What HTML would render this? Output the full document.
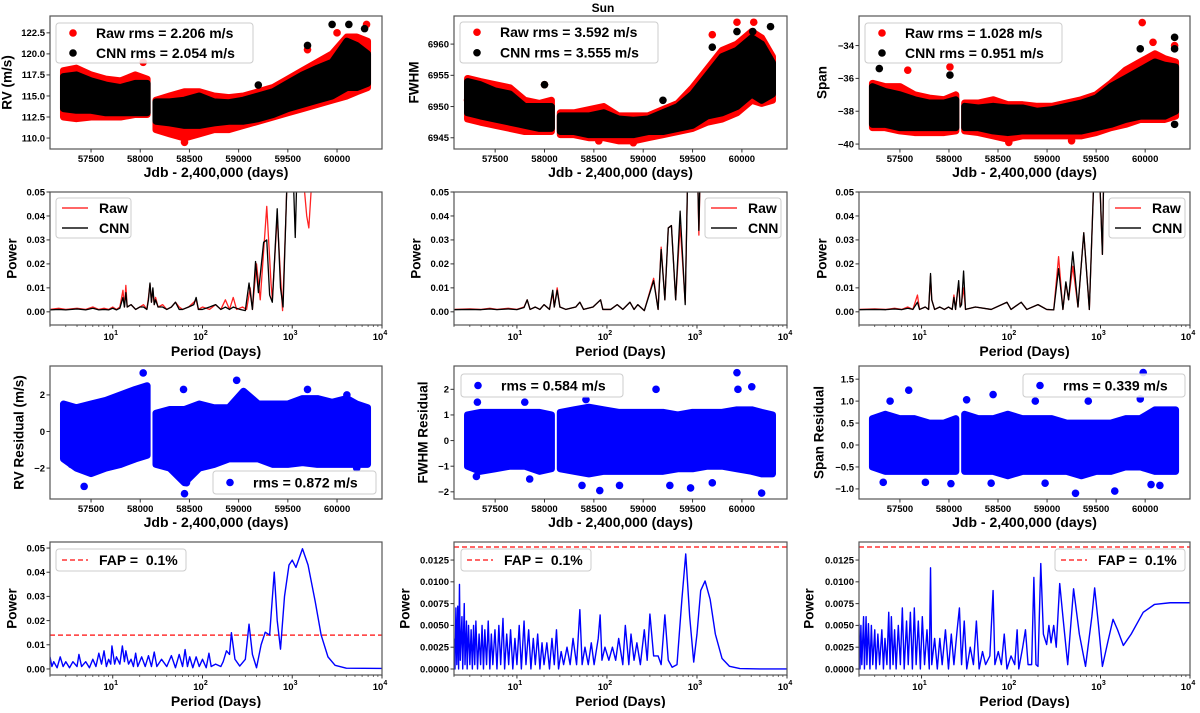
<!DOCTYPE html>
<html><head><meta charset="utf-8"><style>
body{margin:0;background:#fff}
svg text{font-family:"Liberation Sans",sans-serif;font-weight:bold}
</style></head><body>
<svg id="fig" width="1200" height="708" viewBox="0 0 1200 708" xmlns="http://www.w3.org/2000/svg">
<text x="603" y="12" font-size="12" text-anchor="middle">Sun</text>
</svg>
<script>
// ---- shared time bins ----
const timeBins=[57220,57350,57500,57650,57800,57950,58070,58160,58300,58450,58600,58750,58900,59050,59200,59350,59500,59650,59800,59950,60100,60200,60310];
const gapStart=58100;
// RV
const rvRawLo=[112.5,112.3,112.5,112.5,112.5,112.8,112.8,111,110.5,110,110.5,111,111,111.5,112,112.5,113,113.5,114,114.5,115,115.5,116];
const rvRawHi=[118,118.3,117.5,117,116.8,117.5,117,114.5,115,115.5,115.5,115,114.8,115,115.5,116,117,118,119,120,122,122,121.5];
const rvCnnLo=[113.5,113.3,113.3,113,113,113,113,112,111.8,111.5,111.5,111.8,112,112,112.3,112.8,113.5,114,114.5,115,116,116,116.5];
const rvCnnHi=[117.3,117.5,116.8,116.3,116,116.5,116.5,114.3,114.3,114.5,115,114.3,114.2,114.5,115,115.5,116.5,117.5,118.3,119,121.5,121,120];
const rvRawOut=[[58030,119],[58450,109.5],[60300,123.5],[60000,122.5],[59700,120.5]];
const rvCnnOut=[[59950,123.5],[60120,123.5],[60280,123],[59700,121],[59200,116.3]];
// FWHM
const fwRawLo=[6948,6947.5,6947,6946.5,6946,6946,6946,6945.5,6945.5,6945,6945,6944.5,6944.5,6945,6945.5,6946,6946.5,6947.5,6948,6949,6951,6950.5,6951];
const fwRawHi=[6954.5,6954,6953.5,6953,6951,6950.5,6951,6949,6949,6949.5,6950,6948.5,6948.5,6948.5,6949.5,6950.5,6953,6956,6959,6960,6962,6961,6958];
const fwCnnLo=[6949,6948.5,6948,6947.5,6947,6946.5,6946.5,6946,6946,6945.5,6945.5,6945.5,6945.5,6946,6946,6946.5,6947,6948.5,6949,6950,6952,6951,6952];
const fwCnnHi=[6954,6953.5,6952.5,6952,6950,6950,6950,6948.5,6948.5,6948.5,6949,6948,6947.8,6948,6949,6950,6952,6955,6958,6959,6961,6960,6957];
const fwRawOut=[[57220,6951],[58000,6953.5],[59950,6963.5],[60120,6963.5],[59700,6961.5],[58550,6944.5],[58900,6944.2]];
const fwCnnOut=[[59950,6962],[60290,6962.8],[60110,6962],[59700,6959.5],[58000,6953.5],[59200,6951]];
// Span
const spRawLo=[-39,-39,-39.2,-39.3,-39.3,-39.3,-39.2,-39.2,-39.3,-39.5,-39.7,-39.5,-39.5,-39.5,-39.5,-39.5,-39.3,-39,-38.8,-38.5,-38.5,-38.5,-38.3];
const spRawHi=[-36.3,-36.5,-36.5,-37,-37.2,-37.3,-37,-37.5,-37.5,-37.3,-37.6,-37.6,-37.7,-37.7,-37.5,-37.3,-37,-36.3,-35.5,-35,-34.5,-34.8,-35];
const spCnnLo=[-38.8,-38.8,-39,-39,-39,-39,-39,-39,-39,-39.2,-39.3,-39.2,-39.2,-39.2,-39.2,-39.2,-39,-38.8,-38.5,-38.3,-38.3,-38.3,-38];
const spCnnHi=[-36.5,-36.8,-37,-37.3,-37.5,-37.5,-37.3,-37.7,-37.8,-37.7,-37.8,-37.8,-38,-37.9,-37.7,-37.5,-37.2,-36.5,-36,-35.5,-35,-35.2,-35.3];
const spRawOut=[[59970,-32.6],[57580,-35.5],[58010,-35.3],[60080,-33.8],[60300,-34],[58610,-39.9],[59250,-39.8]];
const spCnnOut=[[60300,-33.5],[59950,-34.2],[57290,-35.4],[58010,-35.8],[60300,-38.8],[60300,-34.2]];
// Residuals
const rvResLo=[-1.5,-2,-2.3,-2,-1.8,-1.5,-1.3,-1.8,-2,-2.8,-2,-1.8,-1.5,-1.5,-1.5,-1.8,-1.8,-1.7,-1.8,-1.8,-1.8,-1.8,-1.8];
const rvResHi=[1.5,1.3,1.5,1.7,2,2.3,2.5,1,1.2,1.2,1.5,1.3,1.3,2.2,1.5,1.5,1.5,1.8,1.8,1.6,1.8,1.5,1.3];
const rvResOut=[[58030,3.2],[57430,-3],[58450,-3.4],[58440,2.3],[58980,2.8],[59700,2.3],[60100,2],[58470,-2.8],[57620,-2],[60200,-2],[57300,-1.8]];
const fwResLo=[-1,-1.2,-1.1,-1,-1,-1.2,-1.1,-1.1,-1.2,-1.3,-1.2,-1.2,-1.2,-1.2,-1.2,-1.1,-1.1,-1,-1,-1.1,-1.2,-1.3,-1.3];
const fwResHi=[1.0,1.1,1.1,1.1,1.1,1.1,1.0,1.1,1.2,1.3,1.2,1.1,1.1,1.1,1.1,1.0,1.1,1.1,1.1,1.2,1.2,1.1,1.0];
const fwResOut=[[59950,2.65],[59130,2],[60100,2.1],[59960,2],[58560,-1.95],[60200,-2.05],[58420,1.6],[57310,-1.4],[57850,-1.5],[58380,-1.75],[58760,-1.75],[59480,-1.85],[59700,-1.65],[59270,-1.75],[57800,1.5],[57320,1.5]];
const spResLo=[-0.5,-0.6,-0.6,-0.6,-0.6,-0.6,-0.6,-0.6,-0.6,-0.6,-0.7,-0.6,-0.6,-0.6,-0.6,-0.7,-0.6,-0.6,-0.5,-0.5,-0.6,-0.6,-0.6];
const spResHi=[0.6,0.7,0.6,0.6,0.5,0.5,0.6,0.7,0.6,0.6,0.7,0.6,0.6,0.6,0.5,0.5,0.5,0.5,0.6,0.6,0.8,0.8,0.8];
const spResOut=[[57590,1.25],[59980,1.65],[58450,1.15],[57400,1],[58180,1.03],[58880,1],[59420,1],[59950,1.05],[59290,-1.1],[59690,-1.05],[57330,-0.85],[57760,-0.85],[58430,-0.87],[58980,-0.87],[60060,-0.9],[60150,-0.92],[58020,-0.88]];
// Periodograms (period, power)
const pgRvRaw=[[2,0.001],[2.5,0.0015],[3,0.001],[4,0.0015],[5,0.001],[6,0.002],[7,0.001],[8,0.0015],[9,0.001],[10,0.002],[11,0.001],[12,0.002],[13,0.009],[13.5,0.002],[14,0.011],[14.5,0.002],[16,0.003],[18,0.001],[20,0.002],[22,0.003],[24,0.001],[25,0.006],[26,0.0115],[27,0.004],[28,0.009],[29,0.003],[30,0.006],[32,0.002],[36,0.003],[40,0.001],[45,0.002],[50,0.004],[55,0.002],[60,0.001],[70,0.002],[80,0.004],[85,0.005],[90,0.001],[100,0.002],[120,0.001],[140,0.003],[160,0.001],[180,0.005],[200,0.001],[220,0.006],[240,0.001],[280,0.002],[310,0.001],[340,0.01],[360,0.001],[400,0.02],[440,0.005],[520,0.044],[580,0.012],[600,0.005],[680,0.04],[740,0.015],[780,0.0005],[850,0.04],[900,0.07],[1300,0.06],[1450,0.04],[1530,0.035],[1620,0.05],[1700,0.07]];
const pgRvCnn=[[2,0.0008],[2.5,0.001],[3,0.0008],[4,0.0012],[5,0.0008],[6,0.0015],[7,0.0008],[8,0.001],[9,0.0008],[10,0.0015],[11,0.0008],[12,0.0015],[13,0.006],[13.5,0.002],[14,0.008],[14.5,0.002],[16,0.003],[18,0.001],[20,0.002],[22,0.002],[24,0.001],[25,0.005],[26,0.012],[27,0.004],[28,0.01],[29,0.003],[30,0.005],[32,0.002],[36,0.002],[40,0.001],[45,0.002],[50,0.004],[55,0.001],[60,0.001],[70,0.002],[80,0.003],[85,0.006],[90,0.001],[100,0.001],[120,0.002],[140,0.003],[160,0.001],[180,0.002],[200,0.001],[220,0.002],[260,0.001],[300,0.0005],[330,0.012],[360,0.001],[390,0.021],[420,0.008],[480,0.029],[520,0.03],[560,0.007],[600,0.004],[680,0.043],[740,0.01],[790,0.002],[850,0.04],[900,0.07],[1000,0.07],[1080,0.031],[1150,0.07]];
const pgFwRaw=[[2,0.001],[3,0.0012],[4,0.001],[5,0.0015],[6,0.001],[8,0.0015],[10,0.001],[12,0.002],[13,0.005],[14,0.001],[16,0.002],[18,0.001],[20,0.003],[23,0.001],[25,0.008],[26,0.002],[28,0.01],[30,0.002],[35,0.001],[45,0.002],[50,0.004],[55,0.001],[70,0.002],[85,0.005],[90,0.001],[110,0.001],[130,0.003],[150,0.001],[180,0.004],[200,0.001],[220,0.003],[260,0.0005],[330,0.014],[370,0.001],[400,0.027],[440,0.005],[480,0.035],[520,0.036],[580,0.005],[650,0.036],[740,0.004],[800,0.07],[1000,0.07],[1050,0.032],[1100,0.07]];
const pgFwCnn=[[2,0.0009],[3,0.001],[4,0.0009],[5,0.0012],[6,0.0009],[8,0.0012],[10,0.0009],[12,0.0018],[13,0.005],[14,0.001],[16,0.002],[18,0.001],[20,0.003],[23,0.001],[25,0.009],[26,0.002],[28,0.009],[30,0.002],[35,0.001],[45,0.002],[50,0.004],[55,0.001],[70,0.002],[85,0.005],[90,0.001],[110,0.001],[130,0.003],[150,0.001],[180,0.004],[200,0.001],[220,0.003],[260,0.0005],[330,0.013],[370,0.001],[400,0.026],[440,0.005],[480,0.035],[520,0.036],[580,0.005],[650,0.042],[740,0.003],[800,0.07],[1000,0.07],[1050,0.034],[1100,0.07]];
const pgSpRaw=[[2,0.001],[3,0.0012],[4,0.001],[5,0.0015],[6,0.001],[7,0.002],[8,0.001],[9,0.007],[9.5,0.001],[11,0.002],[12,0.001],[12.6,0.015],[13,0.005],[14,0.001],[16,0.002],[18,0.001],[20,0.002],[22,0.001],[23,0.007],[24,0.001],[26,0.012],[27,0.002],[28,0.004],[29.5,0.01],[31,0.001],[40,0.002],[60,0.001],[90,0.004],[100,0.001],[130,0.004],[150,0.001],[200,0.003],[250,0.001],[300,0.0008],[340,0.023],[380,0.001],[410,0.012],[440,0.005],[490,0.019],[560,0.002],[650,0.033],[750,0.001],[850,0.06],[950,0.07],[1050,0.024],[1100,0.07]];
const pgSpCnn=[[2,0.0009],[3,0.001],[4,0.0009],[5,0.0012],[6,0.0009],[7,0.0015],[8,0.001],[9,0.004],[9.5,0.001],[11,0.002],[12,0.001],[12.6,0.016],[13,0.005],[14,0.001],[16,0.002],[18,0.001],[20,0.002],[22,0.001],[23,0.006],[24,0.001],[26,0.013],[27,0.002],[28,0.003],[29.5,0.017],[31,0.001],[40,0.002],[60,0.001],[90,0.004],[100,0.001],[130,0.004],[150,0.001],[200,0.003],[250,0.001],[300,0.0008],[340,0.018],[380,0.001],[410,0.0125],[440,0.005],[490,0.025],[560,0.002],[650,0.033],[750,0.001],[850,0.06],[950,0.07],[1050,0.024],[1100,0.07]];
const glsRv=[[2,0.005],[2.1,0.001],[2.2,0.003],[2.4,0.0005],[2.6,0.005],[2.8,0.001],[3,0.003],[3.3,0.0005],[3.6,0.003],[4,0.001],[4.2,0.006],[4.5,0.001],[5,0.003],[5.5,0.0005],[6,0.004],[6.5,0.001],[7,0.0065],[7.5,0.002],[8,0.0075],[8.5,0.001],[9,0.004],[9.5,0.002],[9.8,0.0095],[10.5,0.002],[11,0.005],[12,0.002],[12.8,0.0095],[13.5,0.003],[14,0.0075],[15,0.002],[16,0.004],[17,0.001],[18,0.0065],[19,0.001],[21,0.005],[23,0.001],[25,0.0055],[27,0.001],[29,0.007],[31,0.001],[35,0.004],[40,0.001],[45,0.0055],[50,0.0005],[55,0.006],[60,0.001],[64,0.008],[68,0.001],[72,0.005],[78,0.0005],[85,0.005],[92,0.001],[100,0.004],[110,0.0005],[118,0.0065],[125,0.001],[140,0.002],[160,0.001],[170,0.003],[185,0.0075],[200,0.006],[210,0.015],[230,0.004],[260,0.0012],[300,0.004],[330,0.0185],[360,0.006],[400,0.0005],[450,0.01],[500,0.0152],[560,0.014],[630,0.04],[680,0.02],[740,0.0082],[820,0.03],[920,0.043],[1000,0.045],[1100,0.042],[1300,0.0497],[1500,0.043],[1800,0.028],[2100,0.014],[2500,0.005],[3000,0.0015],[4000,0.0003],[10000,0.0002]];
const glsFw=[[2,0.0035],[2.05,0],[2.1,0.007],[2.15,0.0005],[2.2,0.0072],[2.25,0],[2.3,0.0097],[2.35,0.001],[2.45,0.006],[2.5,0],[2.6,0.0075],[2.65,0.0005],[2.75,0.0055],[2.8,0],[2.9,0.005],[3,0.0005],[3.1,0.0045],[3.2,0],[3.3,0.005],[3.4,0.0005],[3.5,0.0055],[3.65,0],[3.8,0.004],[3.95,0.0005],[4.1,0.005],[4.25,0],[4.4,0.0045],[4.6,0.0005],[4.8,0.0055],[5,0],[5.2,0.004],[5.4,0.0005],[5.7,0.0045],[6,0],[6.3,0.005],[6.6,0.0005],[7,0.0058],[7.3,0],[7.7,0.004],[8.1,0.0005],[8.5,0.0045],[9,0],[9.5,0.0035],[10,0.0005],[10.6,0.005],[11.2,0],[12,0.0055],[12.6,0.0005],[13.5,0.0045],[14.3,0],[15.2,0.0035],[16,0.0005],[17,0.004],[18,0],[19,0.003],[20,0.0005],[21.5,0.003],[23,0],[24.5,0.0035],[26,0.0005],[27.5,0.0045],[29,0],[31,0.002],[33,0.0005],[36,0.0025],[39,0.0005],[42,0.0035],[46,0.0005],[50,0.0068],[53,0.0005],[57,0.0025],[62,0.0005],[67,0.003],[72,0.0005],[80,0.0035],[84,0.0062],[88,0.001],[95,0.0025],[105,0.001],[115,0.0025],[125,0.001],[135,0.0035],[150,0.0005],[160,0.005],[175,0.0005],[185,0.004],[200,0.001],[215,0.003],[235,0.0005],[260,0.0045],[280,0.001],[300,0.0063],[330,0.0015],[370,0.0015],[400,0.0005],[440,0.0062],[480,0.001],[530,0.0002],[600,0.0005],[680,0.008],[750,0.0132],[830,0.006],[920,0.0008],[1000,0.004],[1100,0.009],[1230,0.0101],[1400,0.008],[1600,0.004],[1900,0.0012],[2300,0.0003],[3000,0.00005],[5000,0],[10000,0]];
const glsSp=[[2,0.0052],[2.05,0],[2.1,0.005],[2.15,0.0005],[2.25,0.006],[2.3,0],[2.4,0.006],[2.45,0.0005],[2.55,0.0052],[2.65,0],[2.75,0.005],[2.85,0.0005],[3,0.0045],[3.1,0],[3.25,0.004],[3.4,0.0005],[3.6,0.0045],[3.75,0],[3.9,0.0035],[4.1,0.0005],[4.3,0.0065],[4.45,0],[4.6,0.006],[4.8,0.0005],[5,0.0045],[5.2,0],[5.5,0.005],[5.8,0.0005],[6.1,0.007],[6.4,0],[6.8,0.0055],[7.1,0.0005],[7.5,0.0065],[7.9,0],[8.3,0.007],[8.7,0.0005],[9.2,0.0055],[9.7,0],[10.2,0.006],[10.8,0.0005],[11.5,0.0045],[12.2,0],[12.6,0.0116],[13,0.0005],[14,0.0035],[15,0],[16,0.0035],[17,0.0005],[18.5,0.0045],[20,0],[21.5,0.004],[23,0.0005],[25,0.0045],[26.5,0.007],[28,0.0005],[30,0.0055],[32,0],[35,0.0025],[38,0.0005],[41,0.0055],[44,0],[48,0.002],[52,0.0005],[58,0.0015],[63,0.009],[66,0.0005],[72,0.002],[78,0.0005],[84,0.004],[90,0],[100,0.0015],[110,0.0005],[117,0.0045],[122,0],[135,0.0025],[145,0.0045],[155,0.0005],[170,0.0005],[180,0.0105],[190,0.0005],[200,0.0003],[215,0.0121],[230,0.004],[250,0.0028],[265,0.005],[280,0.003],[300,0.005],[320,0.0025],[350,0.0098],[380,0.006],[430,0.0005],[500,0.0092],[580,0.004],[680,0.0003],[800,0.006],[860,0.0093],[950,0.005],[1050,0.0003],[1200,0.003],[1380,0.0057],[1550,0.0045],[1800,0.0027],[2200,0.004],[3000,0.0065],[4000,0.0074],[6000,0.0076],[10000,0.0076]];
const fapLevel=0.014;
const timeTicks=[57500,58000,58500,59000,59500,60000];
const logTicks=[1,2,3,4];

const NS="http://www.w3.org/2000/svg";
const svg=document.getElementById('fig');
function mk(tag,attrs,parent){const e=document.createElementNS(NS,tag);for(const k in attrs)e.setAttribute(k,attrs[k]);(parent||svg).appendChild(e);return e;}
let clipId=0;

function panel(c){
  const g=mk('g',{});
  
  
  const W=c.x1-c.x0,H=c.y1-c.y0;
  const xs=c.log?(v=>c.x0+(Math.log10(v)-Math.log10(2))/(4-Math.log10(2))*W):(v=>c.x0+(v-57083)/(60457-57083)*W);
  const ys=v=>c.y1-(v-c.yd[0])/(c.yd[1]-c.yd[0])*H;
  const id='cl'+(clipId++);
  const cp=mk('clipPath',{id:id},g);mk('rect',{x:c.x0,y:c.y0,width:W,height:H},cp);
  const plot=mk('g',{'clip-path':'url(#'+id+')'},g);
  c.draw(plot,xs,ys);
  const fr=mk('rect',{x:c.x0,y:c.y0,width:W,height:H,fill:'none',stroke:'#555','stroke-width':1.2},g);
  
  
  c.yt.forEach(v=>{const y=ys(v);mk('line',{x1:c.x0-3.5,x2:c.x0,y1:y,y2:y,stroke:'#333'},g);
    const t=mk('text',{x:c.x0-5,y:y+3.3,'font-size':9.5,'text-anchor':'end'},g);
    
    
    t.textContent=c.fmt(v);});
  const yl=mk('text',{x:c.ylx,y:(c.y0+c.y1)/2,'font-size':13.5,'text-anchor':'middle',transform:`rotate(-90 ${c.ylx} ${(c.y0+c.y1)/2})`,'dominant-baseline':'middle'},g);
  
  
  yl.textContent=c.ylabel;
  if(c.log){
    logTicks.forEach(p=>{const x=xs(Math.pow(10,p));mk('line',{x1:x,x2:x,y1:c.y1,y2:c.y1+3.5,stroke:'#333'},g);
      const t=mk('text',{x:x-2,y:c.y1+15,'font-size':9.5,'text-anchor':'middle'},g);
      
      
      t.innerHTML='10<tspan dy="-5" font-size="7">'+p+'</tspan>';});
    for(let d=0;d<4;d++)for(let m=2;m<10;m++){const v=m*Math.pow(10,d);if(v<2)continue;const x=xs(v);mk('line',{x1:x,x2:x,y1:c.y1,y2:c.y1+2,stroke:'#333','stroke-width':0.7},g);}
  }else{
    timeTicks.forEach(v=>{const x=xs(v);mk('line',{x1:x,x2:x,y1:c.y1,y2:c.y1+3.5,stroke:'#333'},g);
      const t=mk('text',{x:x,y:c.y1+13,'font-size':9.5,'text-anchor':'middle'},g);
      
      
      t.textContent=v;});
  }
  if(c.xlabel){const xl=mk('text',{x:(c.x0+c.x1)/2,y:c.y1+(c.log?31:28),'font-size':14,'text-anchor':'middle'},g);
    
    
    xl.textContent=c.xlabel;}
  const L=c.leg;const lg=mk('g',{},g);
  
  
  mk('rect',{x:L.x,y:L.y,width:L.w,height:L.h,rx:3,fill:'#fff','fill-opacity':0.85,stroke:'#ccc'},lg);
  L.items.forEach((it,i)=>{const cy=L.y+(L.h/L.items.length)*(i+0.5);
    if(it.type==='dot'){mk('circle',{cx:L.x+17,cy:cy,r:3.8,fill:it.color},lg);}
    else if(it.type==='line'){mk('line',{x1:L.x+6,x2:L.x+32,y1:cy,y2:cy,stroke:it.color,'stroke-width':1.5},lg);}
    else{mk('line',{x1:L.x+6,x2:L.x+32,y1:cy,y2:cy,stroke:it.color,'stroke-width':1.5,'stroke-dasharray':'5,3'},lg);}
    const t=mk('text',{x:L.x+(it.type==='dot'?40:43),y:cy+4.8,'font-size':14},lg);
    
    
    t.textContent=it.text;});
}

function band(plot,xs,ys,lo,hi,color,name){
  let runs=[[],[]];
  timeBins.forEach((t,i)=>{runs[t<gapStart?0:1].push(i);});
  runs.forEach(r=>{let pts=r.map(i=>xs(timeBins[i])+','+ys(hi[i]));pts=pts.concat(r.slice().reverse().map(i=>xs(timeBins[i])+','+ys(lo[i])));
    const p=mk('polygon',{points:pts.join(' '),fill:color,stroke:color,'stroke-width':7,'stroke-linejoin':'round'},plot);
    
    });
}
function outs(plot,xs,ys,arr,color){arr.forEach(d=>{const c=mk('circle',{cx:xs(d[0]),cy:ys(d[1]),r:3.8,fill:color},plot);
  
  });}
function line(plot,xs,ys,arr,color,w,name){const p=mk('polyline',{points:arr.map(d=>xs(d[0])+','+ys(d[1])).join(' '),fill:'none',stroke:color,'stroke-width':w,'stroke-linejoin':'round'},plot);
  
  }
function fap(plot,xs,ys,c){const y=ys(fapLevel);const l=mk('line',{x1:c.x0,x2:c.x1,y1:y,y2:y,stroke:'#ff3333','stroke-width':1.5,'stroke-dasharray':'5,3'},plot);
  
  }

const cols=[[50,382],[454,787],[859,1190]];
const rows=[[16,149],[192,325],[366,499],[542,675]];
const JD='Jdb - 2,400,000 (days)',PD='Period (Days)';
const red='#ff0000',blk='#000',blue='#0000ff';
const f1=v=>v.toFixed(1),f0=v=>String(v).replace('-','\u2212'),f2=v=>v.toFixed(2),f4=v=>v.toFixed(4);
const legDots=(a,b)=>[{type:'dot',color:red,text:a},{type:'dot',color:blk,text:b}];
const legLines=[{type:'line',color:'#ff3333',text:'Raw'},{type:'line',color:'#111',text:'CNN'}];
const FAPTXT='FAP =\u00a0 0.1%';

panel({name:'rv-timeseries',x0:cols[0][0],x1:cols[0][1],y0:rows[0][0],y1:rows[0][1],yd:[108.7,124.5],yt:[110,112.5,115,117.5,120,122.5],fmt:f1,ylabel:'RV (m/s)',ylx:8,xlabel:JD,
 leg:{x:56,y:23,w:197,h:40,items:legDots('Raw rms = 2.206 m/s','CNN rms = 2.054 m/s')},
 draw:(p,xs,ys)=>{band(p,xs,ys,rvRawLo,rvRawHi,red,'raw-rv-points');outs(p,xs,ys,rvRawOut,red);band(p,xs,ys,rvCnnLo,rvCnnHi,blk,'cnn-rv-points');outs(p,xs,ys,rvCnnOut,blk);}});
panel({name:'fwhm-timeseries',x0:cols[1][0],x1:cols[1][1],y0:rows[0][0],y1:rows[0][1],yd:[6943.2,6964.5],yt:[6945,6950,6955,6960],fmt:f0,ylabel:'FWHM',ylx:415,xlabel:JD,
 leg:{x:460,y:22,w:198,h:41,items:legDots('Raw rms = 3.592 m/s','CNN rms = 3.555 m/s')},
 draw:(p,xs,ys)=>{band(p,xs,ys,fwRawLo,fwRawHi,red,'raw-fwhm-points');outs(p,xs,ys,fwRawOut,red);band(p,xs,ys,fwCnnLo,fwCnnHi,blk,'cnn-fwhm-points');outs(p,xs,ys,fwCnnOut,blk);}});
panel({name:'span-timeseries',x0:cols[2][0],x1:cols[2][1],y0:rows[0][0],y1:rows[0][1],yd:[-40.3,-32.2],yt:[-40,-38,-36,-34],fmt:f0,ylabel:'Span',ylx:823,xlabel:JD,
 leg:{x:865,y:23,w:197,h:40,items:legDots('Raw rms = 1.028 m/s','CNN rms = 0.951 m/s')},
 draw:(p,xs,ys)=>{band(p,xs,ys,spRawLo,spRawHi,red,'raw-span-points');outs(p,xs,ys,spRawOut,red);band(p,xs,ys,spCnnLo,spCnnHi,blk,'cnn-span-points');outs(p,xs,ys,spCnnOut,blk);}});
const pyt=[0,0.01,0.02,0.03,0.04,0.05];
panel({name:'rv-periodogram',log:true,x0:cols[0][0],x1:cols[0][1],y0:rows[1][0],y1:rows[1][1],yd:[-0.0055,0.05],yt:pyt,fmt:f2,ylabel:'Power',ylx:13,xlabel:PD,
 leg:{x:56,y:198,w:75,h:40,items:legLines},
 draw:(p,xs,ys)=>{line(p,xs,ys,pgRvRaw,'#ff2222',1.3,'raw-periodogram');line(p,xs,ys,pgRvCnn,'#000',1.3,'cnn-periodogram');}});
panel({name:'fwhm-periodogram',log:true,x0:cols[1][0],x1:cols[1][1],y0:rows[1][0],y1:rows[1][1],yd:[-0.0055,0.05],yt:pyt,fmt:f2,ylabel:'Power',ylx:417,xlabel:PD,
 leg:{x:705,y:198,w:76,h:40,items:legLines},
 draw:(p,xs,ys)=>{line(p,xs,ys,pgFwRaw,'#ff2222',1.3,'raw-periodogram');line(p,xs,ys,pgFwCnn,'#000',1.3,'cnn-periodogram');}});
panel({name:'span-periodogram',log:true,x0:cols[2][0],x1:cols[2][1],y0:rows[1][0],y1:rows[1][1],yd:[-0.0055,0.05],yt:pyt,fmt:f2,ylabel:'Power',ylx:823,xlabel:PD,
 leg:{x:1109,y:198,w:76,h:40,items:legLines},
 draw:(p,xs,ys)=>{line(p,xs,ys,pgSpRaw,'#ff2222',1.3,'raw-periodogram');line(p,xs,ys,pgSpCnn,'#000',1.3,'cnn-periodogram');}});
panel({name:'rv-residual',x0:cols[0][0],x1:cols[0][1],y0:rows[2][0],y1:rows[2][1],yd:[-3.69,3.58],yt:[-2,0,2],fmt:f0,ylabel:'RV Residual (m/s)',ylx:20,xlabel:JD,
 leg:{x:213,y:471,w:163,h:23,items:[{type:'dot',color:blue,text:'rms = 0.872 m/s'}]},
 draw:(p,xs,ys)=>{band(p,xs,ys,rvResLo,rvResHi,blue,'rv-residual-points');outs(p,xs,ys,rvResOut,blue);}});
panel({name:'fwhm-residual',x0:cols[1][0],x1:cols[1][1],y0:rows[2][0],y1:rows[2][1],yd:[-2.28,2.91],yt:[-2,-1,0,1,2],fmt:f0,ylabel:'FWHM Residual',ylx:424,xlabel:JD,
 leg:{x:461,y:374,w:162,h:23,items:[{type:'dot',color:blue,text:'rms = 0.584 m/s'}]},
 draw:(p,xs,ys)=>{band(p,xs,ys,fwResLo,fwResHi,blue,'fwhm-residual-points');outs(p,xs,ys,fwResOut,blue);}});
panel({name:'span-residual',x0:cols[2][0],x1:cols[2][1],y0:rows[2][0],y1:rows[2][1],yd:[-1.23,1.8],yt:[-1,-0.5,0,0.5,1,1.5],fmt:v=>f1(v).replace('-','\u2212'),ylabel:'Span Residual',ylx:820,xlabel:JD,
 leg:{x:1023,y:374,w:162,h:23,items:[{type:'dot',color:blue,text:'rms = 0.339 m/s'}]},
 draw:(p,xs,ys)=>{band(p,xs,ys,spResLo,spResHi,blue,'span-residual-points');outs(p,xs,ys,spResOut,blue);}});
const gyt=[0,0.0025,0.005,0.0075,0.01,0.0125];
panel({name:'rv-residual-gls',log:true,x0:cols[0][0],x1:cols[0][1],y0:rows[3][0],y1:rows[3][1],yd:[-0.0025,0.0525],yt:pyt,fmt:f2,ylabel:'Power',ylx:13,xlabel:PD,
 leg:{x:56,y:549,w:130,h:22,items:[{type:'dash',color:'#ff3333',text:FAPTXT}]},
 draw:function(p,xs,ys){fap(p,xs,ys,this);line(p,xs,ys,glsRv,blue,1.4,'gls-periodogram');}});
panel({name:'fwhm-residual-gls',log:true,x0:cols[1][0],x1:cols[1][1],y0:rows[3][0],y1:rows[3][1],yd:[-0.00069,0.01457],yt:gyt,fmt:f4,ylabel:'Power',ylx:406,xlabel:PD,
 leg:{x:461,y:549,w:130,h:22,items:[{type:'dash',color:'#ff3333',text:FAPTXT}]},
 draw:function(p,xs,ys){fap(p,xs,ys,this);line(p,xs,ys,glsFw,blue,1.4,'gls-periodogram');}});
panel({name:'span-residual-gls',log:true,x0:cols[2][0],x1:cols[2][1],y0:rows[3][0],y1:rows[3][1],yd:[-0.00069,0.01457],yt:gyt,fmt:f4,ylabel:'Power',ylx:810,xlabel:PD,
 leg:{x:1055,y:549,w:130,h:22,items:[{type:'dash',color:'#ff3333',text:FAPTXT}]},
 draw:function(p,xs,ys){fap(p,xs,ys,this);line(p,xs,ys,glsSp,blue,1.4,'gls-periodogram');}});
</script>
</body></html>
